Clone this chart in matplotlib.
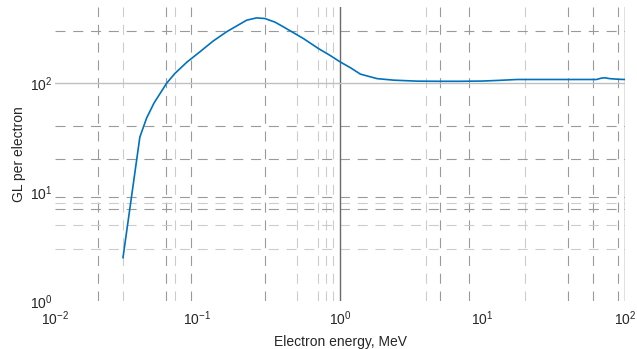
import numpy as np
import matplotlib
matplotlib.use('Agg')
import matplotlib.pyplot as plt

plt.rcParams['font.family'] = ['Liberation Sans', 'DejaVu Sans']
plt.rcParams['mathtext.fontset'] = 'custom'
plt.rcParams['mathtext.rm'] = 'Liberation Sans'
plt.rcParams['mathtext.it'] = 'Liberation Sans:italic'

# electron energy (MeV) and GL per electron
energy = [0.030, 0.0394, 0.044, 0.0495, 0.0608, 0.0694, 0.0843, 0.104, 0.1285,
          0.160, 0.221, 0.259, 0.297, 0.35, 0.40, 0.553, 0.705, 0.85, 1.0,
          1.2, 1.39, 1.82, 2.38, 3.47, 5.0, 7.0, 10.0, 13.0, 17.5, 30.0,
          51.3, 63.0, 68.0, 72.0, 78.0, 90.0, 100.0]
gl = [2.5, 32, 48, 65.6, 100, 122.7, 156, 194, 243,
      296, 378, 397, 392, 363, 329, 257, 208, 180, 157,
      137, 121, 110, 106.5, 104.3, 104, 104, 104.5, 106, 108, 108,
      108, 108, 111, 112, 110, 108.5, 108]

# grid lines that are visible in the reference
x_minor_dark = [0.02, 0.06, 0.09, 0.3, 5, 8, 40, 60, 90]
x_minor_light = [0.03, 0.07, 0.5, 0.7, 0.8, 0.9, 4, 20]
y_minor_dark = [7, 9, 20, 40, 300]
y_minor_light = [3, 5, 8]
x_major = [1, 100]
y_major = [100]

fig = plt.figure(figsize=(6.37, 3.49), dpi=100)
ax = fig.add_axes([55 / 637, 1 - 301 / 349, 570 / 637, 294 / 349])
ax.set_xscale('log')
ax.set_yscale('log')
ax.set_xlim(1e-2, 1e2)
ax.set_ylim(1, 500)

dash = (0, (9, 7))
for v in x_minor_dark:
    ax.axvline(v, color='#9a9a9a', lw=0.8, ls=dash, zorder=1)
for v in x_minor_light:
    ax.axvline(v, color='#cccccc', lw=0.8, ls=dash, zorder=1)
for v in y_minor_dark:
    ax.axhline(v, color='#9a9a9a', lw=0.8, ls=dash, zorder=1)
for v in y_minor_light:
    ax.axhline(v, color='#cccccc', lw=0.8, ls=dash, zorder=1)
for v in x_major:
    ax.axvline(v, color='#6a6a6a', lw=1.0, zorder=1)
for v in y_major:
    ax.axhline(v, color='#c0c0c0', lw=1.0, zorder=1)

ax.plot(energy, gl, color='#0072BD', lw=1.2, zorder=3)

for s in ax.spines.values():
    s.set_visible(False)
ax.set_xticks([1e-2, 1e-1, 1e0, 1e1, 1e2])
ax.set_yticks([1e0, 1e1, 1e2])
ax.minorticks_off()
ax.tick_params(length=0, labelsize=10, colors='#262626')
ax.tick_params(axis='x', pad=6)
ax.tick_params(axis='y', pad=2)

ax.set_xlabel('Electron energy, MeV', fontsize=10, color='#262626')
ax.set_ylabel('GL per electron', fontsize=10, color='#262626')
ax.xaxis.set_label_coords(0.5, -0.115)
ax.yaxis.set_label_coords(-0.05, 0.5)

fig.savefig('out.png', dpi=100, facecolor='white')
